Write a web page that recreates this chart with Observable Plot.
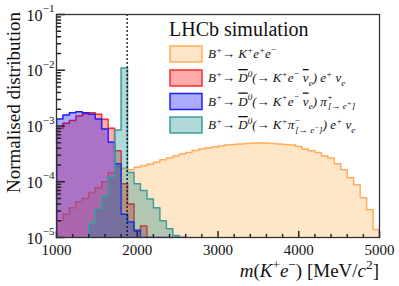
<!DOCTYPE html>
<html><head><meta charset="utf-8">
<script src="https://cdn.jsdelivr.net/npm/d3@7"></script>
<script src="https://cdn.jsdelivr.net/npm/@observablehq/plot@0.6"></script>
<style>body{margin:0;background:#fff} svg{display:block}</style>
</head><body><div id="chart"></div>
<script>
// bin lower edges (MeV/c^2), width 80
const binStart = [1000,1080,1160,1240,1320,1400,1480,1560,1640,1720,1800,1880,1960,2040,2120,2200,2280,2360,2440,2520,2600,2680,2760,2840,2920,3000,3080,3160,3240,3320,3400,3480,3560,3640,3720,3800,3880,3960,4040,4120,4200,4280,4360,4440,4520,4600,4680,4760,4840,4920];
const binWidth = 80;

const sigKee = [2.0e-5,2.6e-5,3.4e-5,4.4e-5,5.0e-5,6.4e-5,7.8e-5,1.0e-4,1.45e-4,1.9e-4,1.75e-4,1.65e-4,1.82e-4,1.93e-4,2.05e-4,2.23e-4,2.47e-4,2.68e-4,2.91e-4,3.16e-4,3.36e-4,3.65e-4,3.88e-4,4.05e-4,4.22e-4,4.39e-4,4.58e-4,4.67e-4,4.77e-4,4.87e-4,4.97e-4,4.97e-4,4.97e-4,4.87e-4,4.77e-4,4.67e-4,4.58e-4,4.27e-4,3.88e-4,3.58e-4,3.34e-4,2.91e-4,2.68e-4,2.10e-4,1.64e-4,1.18e-4,8.84e-5,5.18e-5,3.16e-5,1.39e-5];
const bkgDenu = [9.1e-4,1.12e-3,1.26e-3,1.51e-3,1.66e-3,1.73e-3,1.62e-3,1.32e-3,9.1e-4,3.6e-4,9.2e-5,4.0e-5,1.3e-5,1.6e-5,5e-6,null,null,null,null,null,null,null,null,null,null,null,null,null,null,null,null,null,null,null,null,null,null,null,null,null,null,null,null,null,null,null,null,null,null,null];
const bkgDpi = [1.33e-3,1.57e-3,1.73e-3,1.80e-3,1.73e-3,1.62e-3,1.33e-3,8.8e-4,5.1e-4,2.1e-4,2.6e-5,1.9e-5,1.35e-5,8e-6,5e-6,5e-6,5e-6,5e-6,5e-6,5e-6,null,null,null,null,null,null,null,null,null,null,null,null,null,null,null,null,null,null,null,null,null,null,null,null,null,null,null,null,null,null];
const bkgDKpi = [null,null,null,null,null,1.8e-5,3.3e-5,5.6e-5,1.23e-4,8.5e-4,1.1e-2,1.47e-4,9.2e-5,7.0e-5,4.9e-5,3.4e-5,2.0e-5,1.43e-5,1.09e-5,8e-6,null,null,null,null,null,null,null,null,null,null,null,null,null,null,null,null,null,null,null,null,null,null,null,null,null,null,null,null,null,null];

const dMassLine = [1875];
const xMajor = [1000,2000,3000,4000,5000];
const xMinor = [1200,1400,1600,1800,2200,2400,2600,2800,3200,3400,3600,3800,4200,4400,4600,4800];
const xLabels = ["1000","2000","3000","4000","5000"];
const yMajor = [1e-5,1e-4,1e-3,1e-2,1e-1];
const yExp = ["−5","−4","−3","−2","−1"];
const yMinor = [2e-5,3e-5,4e-5,5e-5,6e-5,7e-5,8e-5,9e-5,2e-4,3e-4,4e-4,5e-4,6e-4,7e-4,8e-4,9e-4,2e-3,3e-3,4e-3,5e-3,6e-3,7e-3,8e-3,9e-3,2e-2,3e-2,4e-2,5e-2,6e-2,7e-2,8e-2,9e-2];

const series = [
  {name: "kee", values: sigKee, fill: "rgb(255,140,0)", fo: 0.22, stroke: "#ffad5c"},
  {name: "denu", values: bkgDenu, fill: "red", fo: 0.33, stroke: "#ff2b2b"},
  {name: "dpi", values: bkgDpi, fill: "blue", fo: 0.33, stroke: "#1f1fff"},
  {name: "dkpi", values: bkgDKpi, fill: "#008080", fo: 0.3, stroke: "#3d9d99"}
];
const YMIN = 1e-5;
function rowsFor(vals) {
  const idx = vals.map((v,i)=>v==null?-1:i).filter(i=>i>=0);
  const area = idx.map(i => ({x: binStart[i], y: Math.max(vals[i], YMIN)}));
  const last = idx[idx.length-1];
  area.push({x: binStart[last] + binWidth, y: Math.max(vals[last], YMIN)});
  const line = [{x: binStart[idx[0]], y: YMIN}, ...area, {x: binStart[last] + binWidth, y: YMIN}];
  return {area, line};
}

const marks = [];
for (const s of series) {
  const r = rowsFor(s.values);
  marks.push(Plot.areaY(r.area, {x: "x", y1: YMIN, y2: "y", curve: "step-after", fill: s.fill, fillOpacity: s.fo, clip: true}));
  marks.push(Plot.line(r.line, {x: "x", y: "y", curve: "step-after", stroke: s.stroke, strokeWidth: 1.5, clip: true}));
}
marks.push(Plot.ruleX(dMassLine, {stroke: "#111", strokeWidth: 1.3, strokeDasharray: "2,2"}));
// ticks inside the frame
marks.push(Plot.vector(xMajor, {x: d=>d, frameAnchor: "bottom", length: 6, rotate: 0, anchor: "start", r: 0, stroke: "#222"}));
marks.push(Plot.vector(xMinor, {x: d=>d, frameAnchor: "bottom", length: 3, rotate: 0, anchor: "start", r: 0, stroke: "#222"}));
marks.push(Plot.vector(yMajor, {y: d=>d, frameAnchor: "left", length: 8, rotate: 90, anchor: "start", r: 0, stroke: "#222"}));
marks.push(Plot.vector(yMinor, {y: d=>d, frameAnchor: "left", length: 4, rotate: 90, anchor: "start", r: 0, stroke: "#222"}));
// tick labels
marks.push(Plot.text(xMajor, {x: d=>d, text: (d,i)=>xLabels[i], frameAnchor: "bottom", lineAnchor: "top", dy: 7, fontSize: 15, fill: "#111"}));
marks.push(Plot.text(yMajor, {y: d=>d, text: ()=>"10", frameAnchor: "left", textAnchor: "end", dx: -14, dy: 1, fontSize: 16, fill: "#111"}));
marks.push(Plot.text(yMajor, {y: d=>d, text: (d,i)=>yExp[i], frameAnchor: "left", textAnchor: "end", dx: -2, dy: -6, fontSize: 11, fill: "#111"}));
marks.push(Plot.frame({stroke: "#333", strokeWidth: 1.3}));

const chart = Plot.plot({
  width: 399, height: 286,
  marginLeft: 56, marginRight: 20, marginTop: 14, marginBottom: 49,
  x: {domain: [1000, 5000], axis: null},
  y: {type: "log", domain: [1e-5, 1e-1], axis: null},
  style: {fontFamily: "'Liberation Serif', 'Times New Roman', serif", background: "white", color: "#111"},
  marks
});
document.getElementById("chart").appendChild(chart);

const svg = d3.select(chart);
function rich(text, parts, base) {
  let off = 0;
  for (const [t, kind, dx] of parts) {
    const ts = text.append("tspan").text(t);
    let target = 0, fs = base;
    if (kind === "sup") { target = -base*0.4; fs = base*0.7; }
    if (kind === "sub") { target = base*0.3; fs = base*0.7; }
    if (kind === "subsup") { target = base*0.05; fs = base*0.55; }
    if (kind === "ovl") ts.style("text-decoration", "overline");
    if (kind === "it") ts.attr("font-style", "italic");
    ts.attr("dy", target - off).attr("font-size", fs);
    if (dx) ts.attr("dx", dx);
    off = target;
  }
}
const font = "'Liberation Serif', 'Times New Roman', serif";
// axis titles
const xt = svg.append("text").attr("x", 379).attr("y", 277).attr("text-anchor", "end")
  .attr("font-family", font).attr("font-size", 19).attr("fill", "#111");
rich(xt, [["m","it"],["("],["K","it"],["+","sup"],["e","it"],["−","sup"],[") [MeV/"],["c","it"],["2","sup"],["]"]], 19);
svg.append("text").attr("transform", "translate(20,12) rotate(-90)").attr("text-anchor", "end")
  .attr("font-family", font).attr("font-size", 19).attr("fill", "#111").text("Normalised distribution");

// legend
svg.append("text").attr("x", 169).attr("y", 36).attr("text-anchor", "start").attr("font-family", font).attr("font-size", 20).attr("fill", "#111").text("LHCb simulation");
const entries = [
  [["B"],["+","sup"],["→ K"],["+","sup"],["e"],["+","sup"],["e"],["−","sup"]],
  [["B"],["+","sup"],["→ "],["D","ovl"],["0","sup"],["(→ K"],["+","sup"],["e"],["−","sup"],[" "],["ν","ovl"],["e","sub"],[") e"],["+","sup"],[" ν"],["e","sub"]],
  [["B"],["+","sup"],["→ "],["D","ovl"],["0","sup"],["(→ K"],["+","sup"],["e"],["−","sup"],[" "],["ν","ovl"],["e","sub"],[") π"],["+","sup"],["[→ e","sub",-5],["+","subsup"],["]","sub"]],
  [["B"],["+","sup"],["→ "],["D","ovl"],["0","sup"],["(→ K"],["+","sup"],["π"],["−","sup"],["[→ e","sub",-5],["−","subsup"],["]","sub"],[") e"],["+","sup"],[" ν"],["e","sub"]]
];
const centers = [54, 78, 101.5, 125];
series.forEach((s, i) => {
  svg.append("rect").attr("x", 170).attr("y", centers[i]-8).attr("width", 32).attr("height", 16)
    .attr("fill", s.fill).attr("fill-opacity", s.fo).attr("stroke", s.stroke).attr("stroke-width", 1.5);
  const t = svg.append("text").attr("x", 208).attr("y", centers[i]+4).attr("text-anchor", "start").attr("font-family", font)
    .attr("font-style", "italic").attr("font-size", 13).attr("fill", "#111");
  rich(t, entries[i], 13);
});
</script>
</body></html>
